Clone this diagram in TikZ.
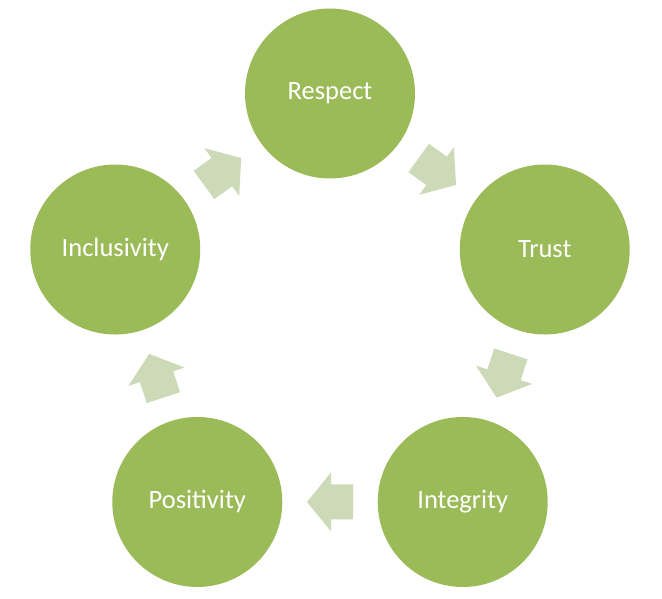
\documentclass[tikz,border=0pt]{standalone}
\usepackage{fontspec}
\setmainfont{Carlito}
\usepackage{tikz}
\usepackage{xcolor}
\usetikzlibrary{calc}

\definecolor{leafgreen}{HTML}{9BBB59}
\definecolor{palegreen}{HTML}{CDDAB7}

\begin{document}
\begin{tikzpicture}[x=1pt,y=1pt,
        stage/.style={circle,fill=leafgreen,minimum size=170pt,inner sep=0pt,
            text=white,font=\fontsize{26.5}{30}\selectfont}]
                \useasboundingbox (0,0) rectangle (662,599);
                \coordinate (o) at (330,279.7);

                % five stages round the cycle
                \node[stage] (respect) at ($(o)+(90:225.8)$) {Respect};
                \node[stage] (trust) at ($(o)+(18:225.8)$) {Trust};
                \node[stage] (integrity) at ($(o)+(-54:225.8)$) {Integrity};
                \node[stage] (positivity) at ($(o)+(-126:225.8)$) {Positivity};
                \node[stage] (inclusivity) at ($(o)+(162:225.8)$) {Inclusivity};

                % block arrows half way between the stages
                \foreach \a/\b/\r in {respect/trust/-36, trust/integrity/-108,
                    integrity/positivity/-180, positivity/inclusivity/-252,
                    inclusivity/respect/-324}{
                    \begin{scope}[shift={($(\a)!0.5!(\b)$)},rotate=\r]
                        \fill[palegreen] (-23,-17.5) -- (-1,-17.5) -- (-1,-29.5) -- (23,0)
                            -- (-1,29.5) -- (-1,17.5) -- (-23,17.5) -- cycle;
                    \end{scope}
                }
            \end{tikzpicture}
\end{document}
